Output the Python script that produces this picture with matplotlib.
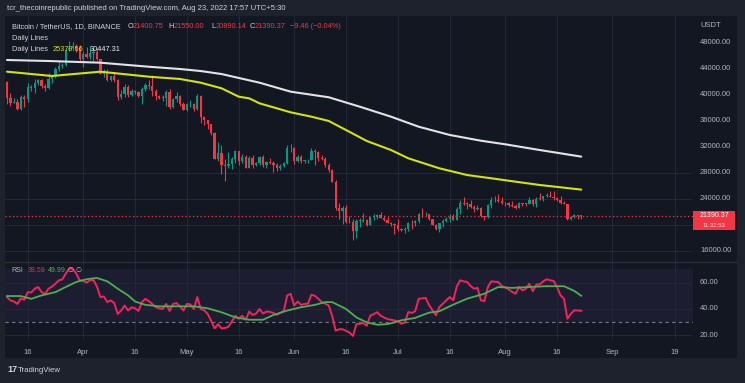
import matplotlib
matplotlib.use('Agg')
import matplotlib.pyplot as plt
import matplotlib.dates as mdates
import matplotlib.transforms as mtrans
from matplotlib.patches import Rectangle
import numpy as np
import pandas as pd

plt.rcParams['font.family'] = ['Liberation Sans', 'DejaVu Sans']

# ---------------- data ----------------
start_date = '2022-03-10'
end_date = '2022-08-23'

opens = [41980, 39400, 38730, 38810, 37790, 39670, 39280, 41115, 40920, 41760, 42200, 41260, 41000, 42360, 42890, 43960, 44350, 44500, 46820, 47130, 47430, 47070,
         45510, 46280, 45810, 46410, 46580, 45500, 43170, 43440, 42250, 42750, 42160, 39530, 40075, 41150, 39940, 40550, 40380, 39680, 40800, 41500, 41360, 40480, 39710, 39470, 39450, 40430, 38110, 39240, 39740, 38600,
         37630, 38470, 38530, 37750, 39690, 36550, 36010, 35470, 34040, 30100, 31010, 29100, 29050, 29280, 30080, 31330, 29850, 30420, 28720, 30310, 29200, 29430, 30320, 29100, 29650, 29540, 29200, 28630, 29030, 29470, 31730,
         31800, 29800, 30450, 29700, 29860, 29920, 31370, 31130, 30200, 30110, 29090, 28420, 26570, 22490, 22140, 22580, 20380, 20470, 19020, 20550, 20570, 20710, 20000, 21100, 21230, 21500, 21030, 20740, 20280, 20100,
         19930, 19300, 19240, 19300, 20230, 20190, 20550, 21620, 21590, 21590, 20850, 19960, 19330, 20230, 20590, 20830, 21200, 20790, 22470, 23400, 23230, 23160, 22690, 22450, 22580, 21310, 21250, 22950, 23840, 23770, 23640,
         23290, 23270, 22990, 22820, 22620, 23310, 23230, 23170, 23810, 23150, 23950, 23940, 24400, 24440, 24300, 24100, 23850, 23340, 23190, 20830, 21140, 21520, 21400.75]

highs = [42050, 40250, 39490, 39310, 39900, 39870, 41720, 41480, 42330, 42400, 42300, 41540, 43360, 43020, 44220, 45090, 44820, 46920, 48190, 48100, 47700, 47600,
         46720, 47210, 47440, 46890, 47200, 45500, 43900, 43970, 42800, 43430, 42420, 40700, 41560, 41500, 40870, 40710, 40600, 41100, 41760, 42200, 42980, 40800, 39980, 39930, 40620, 40800, 39460, 40370, 39920, 38800,
         38670, 39170, 38650, 40020, 39850, 36680, 36130, 35500, 34240, 32660, 32190, 30030, 31080, 30330, 31410, 31330, 30790, 30700, 30540, 30770, 29620, 30480, 30650, 29850, 30200, 29850, 29400, 29250, 29550, 32220, 32400,
         31980, 30650, 30680, 29950, 30150, 31770, 31560, 31330, 30700, 30390, 29450, 28570, 26900, 23360, 22800, 22980, 21370, 20800, 20820, 21080, 21720, 20900, 21230, 21560, 21600, 21870, 21520, 21200, 20400, 20180,
         20880, 19440, 19650, 20350, 20750, 20670, 21840, 22530, 21950, 21610, 20860, 20050, 20250, 20880, 21200, 21590, 21680, 22770, 23800, 24280, 23440, 23760, 22990, 23010, 22660, 21360, 23110, 24200, 24440, 24650, 24200,
         23510, 23470, 23650, 23230, 23460, 23350, 23390, 24250, 23930, 24230, 24920, 24450, 24890, 25210, 25210, 24250, 24450, 23600, 23220, 21380, 21700, 21520, 21550]

lows = [38540, 38220, 38660, 37580, 37560, 38120, 38830, 40500, 40140, 41500, 40910, 40500, 40880, 41760, 42560, 43580, 44070, 44420, 46620, 46950, 46560, 45200,
        44200, 45620, 45510, 45120, 45350, 43120, 42730, 42110, 42130, 41870, 39200, 39250, 39590, 39550, 39770, 40020, 39560, 38540, 40570, 40820, 39750, 39180, 39290, 39000, 38200, 37700, 37880, 38870, 38180, 37580,
        37390, 38050, 37500, 37670, 35570, 35260, 34750, 33710, 30030, 29730, 27780, 26700, 28750, 28600, 29480, 29090, 29460, 28650, 28670, 28730, 28950, 29230, 28850, 28670, 29300, 28020, 28200, 28450, 28850, 29300, 31200,
        29300, 29570, 29500, 29450, 29500, 29880, 29200, 29840, 29950, 28850, 28100, 26560, 22300, 20850, 20110, 20230, 20250, 17620, 17960, 19640, 20350, 19770, 19890, 20740, 20910, 21000, 20500, 20200, 19850, 18630,
        18970, 18980, 18780, 19050, 19300, 19760, 20250, 21190, 21320, 20650, 19880, 19230, 18910, 19620, 20380, 20470, 20750, 20760, 21580, 23050, 22340, 22500, 21950, 22250, 21250, 20700, 21040, 22580, 23410, 23510, 23230,
        22850, 22670, 22680, 22440, 22590, 22930, 22840, 23160, 22860, 22660, 23860, 23580, 24300, 24180, 23770, 23700, 23180, 23110, 20780, 20760, 21070, 20890, 20890.14]

closes = [39400, 38730, 38810, 37790, 39670, 39280, 41115, 40920, 41760, 42200, 41260, 41000, 42360, 42890, 43960, 44350, 44500, 46820, 47130, 47430, 47070, 45510,
          46280, 45810, 46410, 46580, 45500, 43170, 43440, 42250, 42750, 42160, 39530, 40075, 41150, 39940, 40550, 40380, 39680, 40800, 41500, 41360, 40480, 39710, 39470, 39450, 40430, 38110, 39240, 39740, 38600, 37630,
          38470, 38530, 37750, 39690, 36550, 36010, 35470, 34040, 30100, 31010, 29100, 29050, 29280, 30080, 31330, 29850, 30420, 28720, 30310, 29200, 29430, 30320, 29100, 29650, 29540, 29200, 28630, 29030, 29470, 31730, 31800,
          29800, 30450, 29700, 29860, 29920, 31370, 31130, 30200, 30110, 29090, 28420, 26570, 22490, 22140, 22580, 20380, 20470, 19020, 20550, 20570, 20710, 20000, 21100, 21230, 21500, 21030, 20740, 20280, 20100, 19930,
          19300, 19240, 19300, 20230, 20190, 20550, 21620, 21590, 21590, 20850, 19960, 19330, 20230, 20590, 20830, 21200, 20790, 22470, 23400, 23230, 23160, 22690, 22450, 22580, 21310, 21250, 22950, 23840, 23770, 23640, 23290,
          23270, 22990, 22820, 22620, 23310, 23230, 23170, 23810, 23150, 23950, 23940, 24400, 24440, 24300, 24100, 23850, 23340, 23190, 20830, 21140, 21520, 21400.75, 21390.37]

# Moving averages ("Daily Lines")
ma100_dates = ['2022-03-10', '2022-03-23', '2022-04-06', '2022-04-20', '2022-04-29', '2022-05-05', '2022-05-11', '2022-05-16',
               '2022-05-19', '2022-05-22', '2022-05-31', '2022-06-06', '2022-06-11', '2022-06-16', '2022-06-22', '2022-06-29',
               '2022-07-04', '2022-07-13', '2022-07-21', '2022-07-28', '2022-08-04', '2022-08-11', '2022-08-23']
ma100_vals = [43490, 42830, 43490, 42720, 42370, 41800, 40940, 39650, 39400, 38630, 37250, 36580, 35920, 34530, 32850, 31460,
              30190, 28650, 27620, 27120, 26600, 26090, 25380]
ma200_dates = ['2022-03-10', '2022-03-22', '2022-04-06', '2022-04-20', '2022-04-29', '2022-05-05', '2022-05-11', '2022-05-22',
               '2022-05-31', '2022-06-11', '2022-06-20', '2022-06-29', '2022-07-07', '2022-07-16', '2022-07-25', '2022-08-01',
               '2022-08-11', '2022-08-23']
ma200_vals = [45280, 45130, 44870, 44250, 43900, 43590, 43130, 41800, 40420, 39560, 38110, 36580, 35040, 33770, 32890, 32340,
              31460, 30447]

# RSI (14) and its moving average
rsi_vals = [49, 46.5, 45.7, 43.8, 48, 47, 52.8, 52.5, 55.4, 56.7, 52.8, 51.5, 55.4, 57, 59.2, 61.8, 62.5, 66.9, 70.8, 70.5, 67, 61.8,
            61.5, 60, 61.8, 62, 57, 49, 49.5, 45.2, 46.5, 44.5, 36.2, 38.8, 42.6, 38.8, 41.3, 40.5, 38.5, 45.2, 47.7, 46, 43.8, 41.3, 40.5, 40, 43.8, 38.5, 43.8, 44.5, 42, 38.8,
            43.8, 43.5, 40, 49, 40, 39, 36.2, 31.1, 25.2, 28.5, 25.2, 25.5, 26.5, 30.5, 34.9, 32.5, 34.9, 31.8, 38, 35.5, 36.5, 40, 36.5, 38, 37.8, 37, 35.5, 37, 38.5, 50.3, 51.5,
            42.6, 45.7, 43.1, 43.8, 44, 50.8, 50, 47.7, 45.2, 44, 42.6, 34.9, 23.4, 24.6, 24.6, 23.4, 22.1, 19.5, 28.5, 28.8, 29.2, 27.2, 34.9, 36.2, 37.5, 34.9, 33.5, 32.3, 31.8, 31.2,
            30.6, 28.8, 29.5, 37.7, 37, 38.3, 47.8, 48, 48.4, 43, 39, 35.2, 41.5, 44.1, 46.6, 49.1, 46.6, 57, 61.8, 61, 60.5, 57.5, 55.4, 56, 46.6, 45.9, 56.7, 61, 60.7, 60.5, 57.5,
            56.5, 54.9, 53, 51.6, 56.7, 54.2, 55.4, 59.2, 53.5, 58.5, 58.7, 61, 62.6, 61.8, 61.3, 56.7, 50.4, 47.8, 32.6, 36.4, 39, 38.8, 38.59]
rsi_ma_dates = ['2022-03-10', '2022-03-14', '2022-03-17', '2022-03-20', '2022-03-24', '2022-03-27', '2022-03-30', '2022-04-02',
                '2022-04-05', '2022-04-08', '2022-04-11', '2022-04-14', '2022-04-16', '2022-04-19', '2022-04-23', '2022-04-29',
                '2022-05-03', '2022-05-07', '2022-05-11', '2022-05-15', '2022-05-19', '2022-05-23', '2022-05-26', '2022-05-30',
                '2022-06-03', '2022-06-07', '2022-06-10', '2022-06-12', '2022-06-16', '2022-06-19', '2022-06-22', '2022-06-25',
                '2022-06-28', '2022-06-30', '2022-07-02', '2022-07-06', '2022-07-10', '2022-07-13', '2022-07-17', '2022-07-21',
                '2022-07-26', '2022-07-30', '2022-08-03', '2022-08-08', '2022-08-13', '2022-08-18', '2022-08-21', '2022-08-23']
rsi_ma_vals = [49.8, 49.8, 47.7, 50.3, 52.8, 56.7, 60.5, 62.6, 63.6, 61, 55.4, 50.3, 45.7, 43.1, 42, 42, 42, 40.5, 37.5, 33.6,
               31.8, 31.8, 35.4, 38.8, 41.3, 43.1, 45.2, 45.2, 40, 33.6, 29.8, 28, 28.5, 29.8, 31.4, 33.2, 37.2, 38.3, 43.3,
               47.8, 51.6, 56.7, 56, 56.7, 57.3, 57.3, 53.7, 49.99]

# 20000.00 is hidden behind the last-price box in the reference, so it is not labelled
price_ticks = [48000, 44000, 40000, 36000, 32000, 28000, 24000, 16000]
grid_prices = [28000, 24000, 20000, 16000]
rsi_ticks = [60, 40, 20]
date_ticks = ['2022-03-16', '2022-04-01', '2022-04-16', '2022-05-01', '2022-05-16', '2022-06-01', '2022-06-16',
              '2022-07-01', '2022-07-16', '2022-08-01', '2022-08-16', '2022-09-01', '2022-09-19']
date_labels = ['16', 'Apr', '16', 'May', '16', 'Jun', '16', 'Jul', '16', 'Aug', '16', 'Sep', '19']
last_price = 21390.37

# ---------------- style ----------------
W, H = 745, 383
FRAME = '#1e222d'
BG = '#131722'
GRID = '#242836'
TXT = '#b2b5be'
UP = '#089981'
DOWN = '#f23645'
YEL = '#d2e40c'
WHITE_MA = '#e3e3e6'
RSI_C = '#f7215d'
RSI_MA_C = '#4caf50'

fig = plt.figure(figsize=(W / 100, H / 100), dpi=100, facecolor=FRAME)

def fx(x):
    return x / W

def fy(y):
    return 1 - y / H

# chart box background
fig.patches.append(Rectangle((fx(5), fy(358)), fx(737) - fx(5), fy(16) - fy(358),
                             transform=fig.transFigure, facecolor=BG, edgecolor='none', zorder=-5))

ax = fig.add_axes([fx(5), fy(262), fx(693) - fx(5), fy(16) - fy(262)])
axr = fig.add_axes([fx(5), fy(340), fx(693) - fx(5), fy(262) - fy(340)])
for a in (ax, axr):
    a.set_zorder(2)
    a.set_facecolor(BG)
    for s in a.spines.values():
        s.set_visible(False)
    a.set_xticks([])
    a.set_yticks([])

dates = pd.date_range(start_date, end_date, freq='D')
xd = mdates.date2num(dates)
x0 = mdates.date2num(pd.Timestamp(start_date))
xlim = (x0 - 0.58, x0 + 198.3)

# grid
for d in date_ticks:
    xv = mdates.date2num(pd.Timestamp(d))
    ax.axvline(xv, color=GRID, lw=0.8, zorder=0.5)
    axr.axvline(xv, color=GRID, lw=0.8, zorder=0.5)
for p in grid_prices:
    ax.axhline(p, color=GRID, lw=0.8, zorder=0.5)
for r in rsi_ticks:
    axr.axhline(r, color=GRID, lw=0.8, zorder=0.5)

# candles
o = np.array(opens, float)
h = np.array(highs, float)
l = np.array(lows, float)
c = np.array(closes, float)
cols = np.where(c >= o, UP, DOWN)
ax.vlines(xd, l, h, colors=cols, lw=0.8, zorder=2)
body = np.maximum(np.abs(c - o), 90)
ax.bar(xd, body, bottom=np.minimum(o, c), width=0.66, color=cols, zorder=3, linewidth=0)

# moving averages
ax.plot(mdates.date2num(pd.to_datetime(ma200_dates)), ma200_vals, color=WHITE_MA, lw=1.5, zorder=4,
        solid_capstyle='round')
ax.plot(mdates.date2num(pd.to_datetime(ma100_dates)), ma100_vals, color=YEL, lw=1.5, zorder=4,
        solid_capstyle='round')

# last price line
ax.axhline(last_price, color=DOWN, lw=0.9, ls=(0, (1, 2)), zorder=5)

ax.set_xlim(*xlim)
ax.set_ylim(14265, 52040)

# RSI pane
axr.axhspan(30, 70, color='#7e57c2', alpha=0.1, lw=0, zorder=0.4)
axr.axhline(30, color='#787b86', lw=0.8, ls=(0, (3, 3)), zorder=1)
axr.plot(xd, rsi_vals, color=RSI_C, lw=1.4, zorder=3)
axr.plot(mdates.date2num(pd.to_datetime(rsi_ma_dates)), rsi_ma_vals, color=RSI_MA_C, lw=1.3, zorder=4)
axr.set_xlim(*xlim)
axr.set_ylim(16.4, 75.7)

# pane separator
fig.add_artist(plt.Line2D([fx(5), fx(737)], [fy(262), fy(262)], transform=fig.transFigure,
                          color='#2a2e39', lw=1.0, zorder=3))

# axis labels
fs = 5.5
tr_p = mtrans.blended_transform_factory(ax.transAxes, ax.transData)
for p in price_ticks:
    ax.text(1.0102, p, f'{p:.2f}', transform=tr_p, color=TXT, fontsize=fs, va='center', ha='left', clip_on=False)
ax.text(1.0102, 50656, 'USDT', transform=tr_p, color=TXT, fontsize=fs, va='center', ha='left', clip_on=False)
tr_r = mtrans.blended_transform_factory(axr.transAxes, axr.transData)
for r in rsi_ticks:
    axr.text(1.0102, r, f'{r:.2f}', transform=tr_r, color=TXT, fontsize=fs, va='center', ha='left', clip_on=False)
tr_d = mtrans.blended_transform_factory(axr.transData, axr.transAxes)
for d, lab in zip(date_ticks, date_labels):
    axr.text(mdates.date2num(pd.Timestamp(d)), -0.155, lab, transform=tr_d, color=TXT, fontsize=fs,
             va='center', ha='center', clip_on=False)

# last price box
fig.patches.append(Rectangle((fx(693), fy(230)), fx(735) - fx(693), fy(211) - fy(230),
                             transform=fig.transFigure, facecolor=DOWN, edgecolor='none', zorder=5))
fig.text(fx(714), fy(215.6), f'{last_price:.2f}', color='white', fontsize=5.0, ha='center', va='center', zorder=6)
fig.text(fx(714), fy(225.9), '11:32:53', color='#ffd0d5', fontsize=4.3, ha='center', va='center', zorder=6)

def ptext(x, y, s, color='#d1d4dc', size=5.3, **kw):
    fig.text(fx(x), fy(y), s, color=color, fontsize=size, ha='left', va='center', zorder=6, **kw)

# header and legends
ptext(7, 8, 'tcr_thecoinrepublic published on TradingView.com, Aug 23, 2022 17:57 UTC+5:30', size=5.5)
ptext(11.5, 26.5, 'Bitcoin / TetherUS, 1D, BINANCE')
for lab, xl, val, xv in [('O', 127.5, '21400.75', 132.5), ('H', 168.5, '21550.00', 173.5),
                         ('L', 211.5, '20890.14', 216), ('C', 250, '21390.37', 255)]:
    ptext(xl, 26.5, lab)
    ptext(xv, 26.5, val, color=DOWN)
ptext(290, 26.5, '\u22129.46 (\u22120.04%)', color=DOWN)
ptext(11.5, 38.3, 'Daily Lines')
ptext(11.5, 49.3, 'Daily Lines')
ptext(53, 49.3, '25379.66', color=YEL)
ptext(90, 49.3, '30447.31', color='#f0f0f0')

ptext(11.5, 271, 'RSI', color=TXT, size=5.0)
ptext(28, 271, '38.59', color=RSI_C, size=5.0)
ptext(47.5, 271, '49.99', color=RSI_MA_C, size=5.0)
ptext(67, 271, '\u2205', color=TXT, size=5.0)
ptext(75.5, 271, '\u2205', color=TXT, size=5.0)

# TradingView logo
ptext(7, 370, '17', color='#d1d4dc', size=6.5, fontweight='bold')
ptext(17.5, 370.5, 'TradingView', color='#d1d4dc', size=5.6)

fig.savefig('out.png', dpi=100, facecolor=FRAME)
